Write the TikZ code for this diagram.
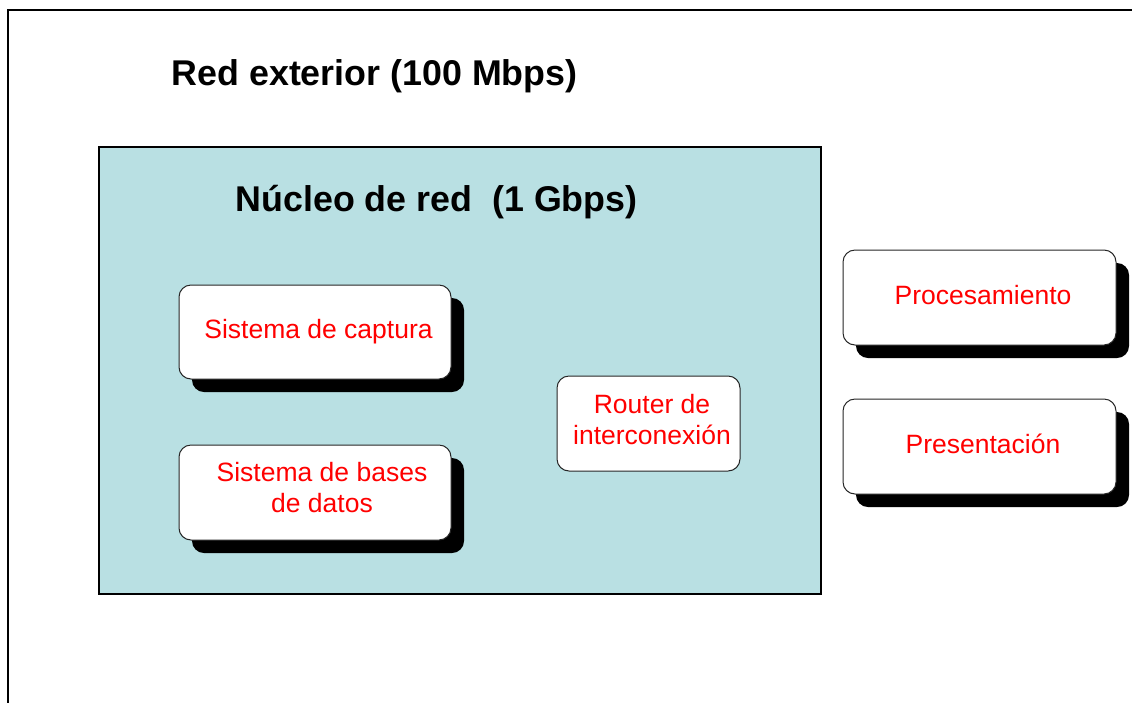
\documentclass[tikz,border=0pt]{standalone}
\usepackage{fontspec}
\setmainfont{Liberation Sans}
\usetikzlibrary{shadows}
\definecolor{corefill}{RGB}{185,224,227}
\definecolor{txtred}{RGB}{255,0,0}
\newcommand\hs{\hspace*{7pt}}
\begin{document}
\begin{tikzpicture}[x=1pt,y=-1pt,
  title/.style={anchor=base west,inner sep=0pt,font=\fontsize{35.8}{40}\selectfont\bfseries},
  boxbase/.style={draw=black!85,line width=1pt,fill=white,rounded corners=12pt,
    align=center,text=txtred,font=\fontsize{26.5}{30.5}\selectfont,inner sep=0pt},
  oneline/.style={text height=19.3pt,text depth=5.6pt},
  shadowbox/.style={boxbase,drop shadow={shadow xshift=13pt,shadow yshift=-13pt,opacity=1,fill=black}}
]
\useasboundingbox (0,0) rectangle (1132,702);
\fill[white] (0,0) rectangle (1132,702);
% outer frame
\draw[line width=2pt] (8,705) -- (8,10) -- (1135,10);
\node[title] (ext) at (171.5,85) {Red exterior (100 Mbps)};
% core
\draw[line width=2pt,fill=corefill] (99,147) rectangle (821,594);
\node[title] (core) at (235.5,211) {Núcleo de red\ \ (1 Gbps)};
% boxes
\node[shadowbox,oneline,minimum width=272pt,minimum height=94pt] (cap) at (315,332) {\hs Sistema de captura};
\node[shadowbox,minimum width=272pt,minimum height=95pt] (bd) at (315,492.5) {\hs\hs Sistema de bases\\\hs\hs de datos\rule[-10pt]{0pt}{0pt}};
\node[boxbase,minimum width=183pt,minimum height=95pt] (rt) at (648.5,423.5) {\hs Router de\\\hs interconexión\rule[-8pt]{0pt}{0pt}};
\node[shadowbox,oneline,minimum width=273pt,minimum height=95pt] (proc) at (979.5,297.5) {\hs Procesamiento};
\node[shadowbox,oneline,minimum width=273pt,minimum height=95pt] (pres) at (979.5,446.5) {\hs Presentación};
\end{tikzpicture}
\end{document}
